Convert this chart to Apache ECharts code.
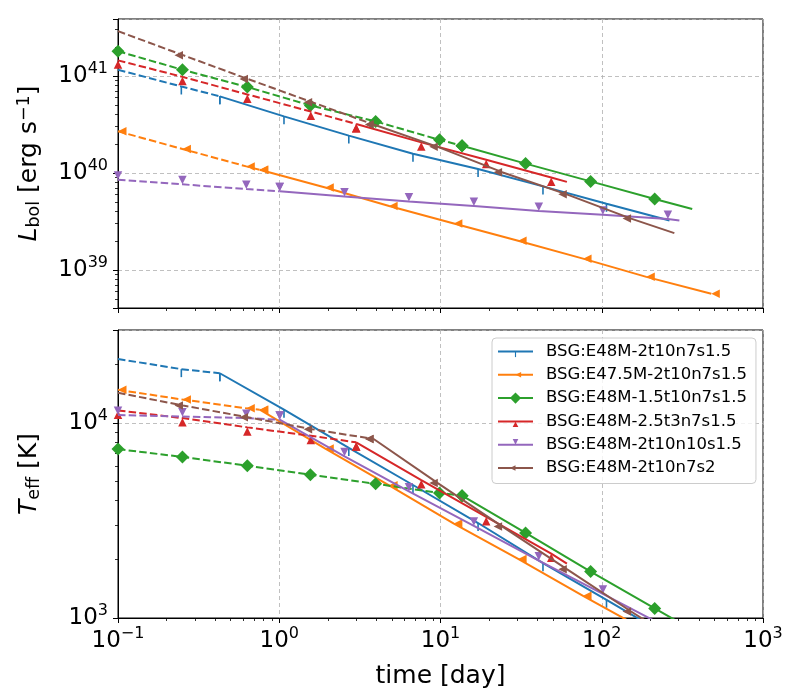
<!DOCTYPE html>
<html>
<head>
<meta charset="utf-8">
<script src="https://cdn.jsdelivr.net/npm/echarts@6.0.0/dist/echarts.min.js"></script>
<style>
html, body { margin: 0; padding: 0; background: #fff; }
#main { width: 800px; height: 700px; }
</style>
</head>
<body>
<div id="main"></div>
<script>
// sample times [day] of each model (first/last = ends of the curve)
var tBlue   = [0.1, 0.247, 0.428, 1.07, 2.70, 6.75, 17.1, 43.2, 107, 263];
var tOrange = [0.1, 0.251, 0.625, 0.757, 1.93, 4.8, 12.1, 30.3, 76.6, 189, 478];
var tGreen  = [0.1, 0.251, 0.634, 1.56, 3.96, 9.86, 13.6, 33.7, 85.3, 213, 364];
var tRed    = [0.1, 0.251, 0.634, 1.57, 3.0, 7.6, 19.2, 48.6, 60.8];
var tPurple = [0.1, 0.251, 0.625, 1.006, 2.54, 6.37, 16.1, 40.7, 101.6, 257, 303];
var tBrown  = [0.1, 0.253, 0.64, 1.6, 3.85, 9.62, 24.1, 60.7, 152, 282];

// bolometric luminosity [erg/s]
var lBlue   = [1.16e41, 7.8e40, 6.17e40, 3.84e40, 2.43e40, 1.58e40, 1.10e40, 7.28e39, 4.82e39, 3.24e39];
var lOrange = [2.69e40, 1.77e40, 1.17e40, 1.08e40, 7.08e39, 4.57e39, 3.02e39, 2.0e39, 1.31e39, 8.5e38, 5.69e38];
var lGreen  = [1.8e41, 1.16e41, 7.7e40, 4.98e40, 3.4e40, 2.2e40, 1.91e40, 1.25e40, 8.2e39, 5.4e39, 4.26e39];
var lRed    = [1.45e41, 9.8e40, 6.46e40, 4.3e40, 3.2e40, 2.07e40, 1.37e40, 9.0e39, 8.1e39];
var lPurple = [8.53e39, 7.64e39, 6.84e39, 6.47e39, 5.74e39, 5.09e39, 4.57e39, 4.07e39, 3.72e39, 3.36e39, 3.24e39];
var lBrown  = [2.9e41, 1.64e41, 9.3e40, 5.37e40, 3.16e40, 1.86e40, 1.02e40, 6.03e39, 3.39e39, 2.4e39];

// effective temperature [K]
var teBlue   = [2.13e4, 1.89e4, 1.80e4, 1.17e4, 7.45e3, 4.81e3, 3.07e3, 1.91e3, 1.24e3, 8.0e2];
var teOrange = [1.48e4, 1.32e4, 1.19e4, 1.17e4, 7.4e3, 4.79e3, 3.05e3, 2.01e3, 1.3e3, 8.6e2, 5.6e2];
var teGreen  = [7.35e3, 6.7e3, 6.04e3, 5.43e3, 4.88e3, 4.38e3, 4.24e3, 2.73e3, 1.73e3, 1.12e3, 8.7e2];
var teRed    = [1.16e4, 1.06e4, 9.5e3, 8.6e3, 7.96e3, 5.1e3, 3.3e3, 2.14e3, 1.9e3];
var tePurple = [1.1e4, 1.08e4, 1.06e4, 1.04e4, 6.75e3, 4.46e3, 2.97e3, 1.97e3, 1.33e3, 8.9e2, 8.2e2];
var teBrown  = [1.43e4, 1.23e4, 1.07e4, 9.3e3, 8.28e3, 4.92e3, 2.95e3, 1.78e3, 1.08e3, 7.8e2];

var names = ['BSG:E48M-2t10n7s1.5', 'BSG:E47.5M-2t10n7s1.5', 'BSG:E48M-1.5t10n7s1.5',
             'BSG:E48M-2.5t3n7s1.5', 'BSG:E48M-2t10n10s1.5', 'BSG:E48M-2t10n7s2'];
// index where dashed part ends and solid part starts
var breaks = [2, 3, 6, 4, 3, 4];

var FONT = 'DejaVu Sans';
var colors = ['#1f77b4', '#ff7f0e', '#2ca02c', '#d62728', '#9467bd', '#8c564b'];

// matplotlib-like markers, drawn in a square box so the legend keeps the offsets
var SYM = {
    tickdown: 'path://M0,0M16,16M7.2,8L8.8,8L8.8,16L7.2,16Z',
    caretleft: 'path://M0,0M17,17M8.5,8.5L17,4.25L17,12.75Z',
    caretup: 'path://M0,0M17,17M8.5,8.5L12.75,17L4.25,17Z',
    caretdown: 'path://M0,0M17,17M8.5,8.5L4.25,0L12.75,0Z',
    caretleftbase: 'path://M0,0M17,17M8.5,4.25L8.5,12.75L0,8.5Z'
};

var models = [
    {t: tBlue,   top: lBlue,   bot: teBlue,   sym: SYM.tickdown,      size: 16, markFirst: false, markLast: false},
    {t: tOrange, top: lOrange, bot: teOrange, sym: SYM.caretleft,     size: 17, markFirst: true,  markLast: true},
    {t: tGreen,  top: lGreen,  bot: teGreen,  sym: 'diamond',         size: 13, markFirst: true,  markLast: false},
    {t: tRed,    top: lRed,    bot: teRed,    sym: SYM.caretup,       size: 17, markFirst: true,  markLast: false},
    {t: tPurple, top: lPurple, bot: tePurple, sym: SYM.caretdown,     size: 17, markFirst: true,  markLast: false},
    {t: tBrown,  top: lBrown,  bot: teBrown,  sym: SYM.caretleftbase, size: 17, markFirst: false, markLast: false}
];

// minor tick positions (2..9 x 10^n) in log10 space
function minorTicks(lo, hi) {
    var out = [];
    for (var e = Math.floor(Math.log10(lo)); e <= Math.ceil(Math.log10(hi)); e++) {
        for (var k = 2; k <= 9; k++) {
            var v = Math.log10(k) + e;
            if (v >= Math.log10(lo) && v <= Math.log10(hi)) out.push(v);
        }
    }
    return out;
}

function powLabel(v) {
    var lg = Math.log10(v);
    var e = Math.round(lg);
    if (Math.abs(lg - e) > 1e-6) return '';
    return '{b|10}{s|' + String(e).replace('-', '\u2212') + '}';
}

var tickRich = {
    b: {fontFamily: FONT, fontSize: 23, color: '#000', lineHeight: 30, verticalAlign: 'middle'},
    s: {fontFamily: FONT, fontSize: 16, color: '#000', lineHeight: 30, verticalAlign: 'top'}
};
var nameRich = {
    i: {fontFamily: FONT, fontSize: 25, fontStyle: 'italic', color: '#000', lineHeight: 28, verticalAlign: 'middle'},
    n: {fontFamily: FONT, fontSize: 25, color: '#000', lineHeight: 28, verticalAlign: 'middle'},
    sub: {fontFamily: FONT, fontSize: 17.5, color: '#000', lineHeight: 28, verticalAlign: 'bottom'},
    sup: {fontFamily: FONT, fontSize: 17.5, color: '#000', lineHeight: 28, verticalAlign: 'top'}
};

var gridLine = {show: true, lineStyle: {color: '#b0b0b0', width: 0.8, type: [4, 3]}};

function mainAxis(grid, min, max, showLabel, pos) {
    return {
        type: 'log', logBase: 10, gridIndex: grid, min: min, max: max, position: pos,
        axisLine: {show: true, onZero: false, lineStyle: {color: '#000', width: 1}},
        axisTick: {show: true, inside: false, length: 5, lineStyle: {color: '#000', width: 1}},
        axisLabel: {show: showLabel, formatter: powLabel, rich: tickRich, margin: pos === 'left' ? 10 : 8,
                    showMinLabel: true, showMaxLabel: true},
        splitLine: gridLine
    };
}
// a plain value axis in log10 units, used only to draw the short minor ticks
function minorAxis(grid, min, max, pos) {
    return {
        type: 'value', gridIndex: grid, min: Math.log10(min), max: Math.log10(max), position: pos,
        axisLine: {show: false, onZero: false},
        axisTick: {show: true, inside: false, length: 3, customValues: minorTicks(min, max),
                   lineStyle: {color: '#000', width: 0.8}},
        axisLabel: {show: false},
        splitLine: {show: false}
    };
}

var lMin = 4.06e38, lMax = 3.87e41;
var teMin = 1e3, teMax = 3.0e4;

var xAxes = [
    mainAxis(0, 0.1, 1000, false, 'bottom'),
    minorAxis(0, 0.1, 1000, 'bottom'),
    mainAxis(1, 0.1, 1000, true, 'bottom'),
    minorAxis(1, 0.1, 1000, 'bottom')
];
xAxes[2].name = 'time [day]';
xAxes[2].nameLocation = 'middle';
xAxes[2].nameGap = 46;
xAxes[2].nameTextStyle = {fontFamily: FONT, fontSize: 25, color: '#000'};

var yAxes = [
    mainAxis(0, lMin, lMax, true, 'left'),
    minorAxis(0, lMin, lMax, 'left'),
    mainAxis(1, teMin, teMax, true, 'left'),
    minorAxis(1, teMin, teMax, 'left')
];
yAxes[0].name = '{i|L}{sub|bol}{n| [erg s}{sup|\u22121}{n|]}';
yAxes[0].nameLocation = 'middle';
yAxes[0].nameRotate = 90;
yAxes[0].nameGap = 75;
yAxes[0].nameTextStyle = {rich: nameRich};
yAxes[2].name = '{i|T}{sub|eff}{n| [K]}';
yAxes[2].nameLocation = 'middle';
yAxes[2].nameRotate = 90;
yAxes[2].nameGap = 75;
yAxes[2].nameTextStyle = {rich: nameRich};

var series = [];
models.forEach(function (m, k) {
    var last = m.t.length - 1;
    function item(i, vals) {
        var d = {value: [m.t[i], vals[i]]};
        if ((i === 0 && !m.markFirst) || (i === last && !m.markLast)) d.symbol = 'none';
        return d;
    }
    [[m.top, 0], [m.bot, 2]].forEach(function (p) {
        var dashed = [], solid = [];
        for (var i = 0; i <= last; i++) {
            if (i <= breaks[k]) dashed.push(item(i, p[0]));
            if (i >= breaks[k]) solid.push(item(i, p[0]));
        }
        var common = {
            type: 'line', xAxisIndex: p[1], yAxisIndex: p[1],
            symbol: m.sym, symbolSize: m.size, showSymbol: true,
            itemStyle: {color: colors[k]}, clip: true, silent: true,
            animation: false, z: 3 + k
        };
        series.push(Object.assign({}, common, {
            name: names[k] + ' (early)', data: dashed,
            lineStyle: {color: colors[k], width: 2, type: [7.5, 3.2]}
        }));
        series.push(Object.assign({}, common, {
            name: names[k], data: solid,
            lineStyle: {color: colors[k], width: 2, type: 'solid'}
        }));
    });
});

var chart = echarts.init(document.getElementById('main'), null, {renderer: 'canvas'});
chart.setOption({
    animation: false,
    backgroundColor: '#fff',
    grid: [
        {left: 118, top: 19, width: 645, height: 289, show: true, borderColor: '#000', borderWidth: 1, backgroundColor: 'transparent'},
        {left: 118, top: 330, width: 645, height: 288, show: true, borderColor: '#000', borderWidth: 1, backgroundColor: 'transparent'}
    ],
    xAxis: xAxes,
    yAxis: yAxes,
    legend: {
        data: names,
        orient: 'vertical',
        left: 492, top: 338,
        itemWidth: 35, itemHeight: 14, itemGap: 6.3,
        padding: [5, 9, 7, 5],
        backgroundColor: 'rgba(255,255,255,0.8)',
        borderColor: '#cccccc', borderWidth: 1, borderRadius: 4,
        selectedMode: false,
        textStyle: {fontFamily: FONT, fontSize: 16.5, color: '#000', lineHeight: 17, padding: [0, 0, 0, 8]}
    },
    series: series
});
</script>
</body>
</html>
